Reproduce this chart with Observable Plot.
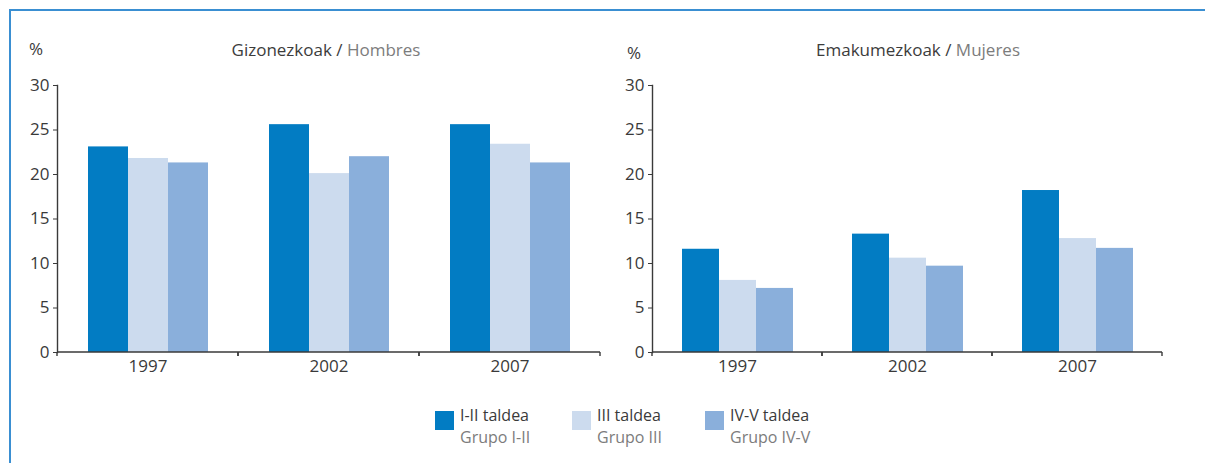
<!DOCTYPE html>
<html>
<head>
<meta charset="utf-8">
<script src="https://cdn.jsdelivr.net/npm/d3@7"></script>
<script src="https://cdn.jsdelivr.net/npm/@observablehq/plot@0.6"></script>
<style>
  html, body { margin: 0; padding: 0; background: #fff; }
  #wrap { position: relative; width: 1205px; height: 463px; overflow: hidden; font-family: "Open Sans", sans-serif; }
  #frame { position: absolute; left: 9px; top: 9px; right: -10px; bottom: -10px; border-top: 2px solid #3a8fd2; border-left: 2px solid #3a8fd2; }
  .chart { position: absolute; top: 0; }
  .title { position: absolute; font-size: 17px; color: #3c3c3c; white-space: nowrap; transform: translateX(-50%); }
  .title span { color: #7c7c7c; }
  .pct { position: absolute; font-size: 17px; color: #3a3a3a; }
  .sw { position: absolute; width: 19px; height: 19px; top: 411px; }
  .lab { position: absolute; font-size: 16px; line-height: 22px; height: 22px; white-space: nowrap; }
  .eu { color: #3a3a3a; }
  .es { color: #7c7c7c; }
</style>
</head>
<body>
<div id="wrap">
  <div id="frame"></div>
</div>
<script>
// ---- data ----
const years = ["1997", "2002", "2007"];
const groups = ["I-II", "III", "IV-V"];
const groupLabelsEu = ["I-II taldea", "III taldea", "IV-V taldea"];
const groupLabelsEs = ["Grupo I-II", "Grupo III", "Grupo IV-V"];
const colors = ["#027cc3", "#ccdbee", "#8aafdb"];
const yTicks = [0, 5, 10, 15, 20, 25, 30];

// Gizonezkoak / Hombres
const menI_II = [23.1, 25.6, 25.6];
const menIII = [21.8, 20.1, 23.4];
const menIV_V = [21.3, 22.0, 21.3];
// Emakumezkoak / Mujeres
const womenI_II = [11.6, 13.3, 18.2];
const womenIII = [8.1, 10.6, 12.8];
const womenIV_V = [7.2, 9.7, 11.7];

function table(series) {
  const rows = [];
  years.forEach((yr, i) => {
    groups.forEach((g, j) => rows.push({year: yr, group: g, value: series[j][i]}));
  });
  return rows;
}

// per-facet baseline with boundary ticks
function baseline(index, scales, values, dims) {
  const x1 = dims.marginLeft, x2 = dims.width - dims.marginRight;
  const y0 = scales.y(0);
  const g = d3.create("svg:g").attr("stroke", "#3a3a3a").attr("stroke-width", 1.4).attr("fill", "none");
  g.append("line").attr("x1", x1).attr("x2", x2).attr("y1", y0).attr("y2", y0);
  g.append("line").attr("x1", x1).attr("x2", x1).attr("y1", y0).attr("y2", y0 + 4);
  g.append("line").attr("x1", x2).attr("x2", x2).attr("y1", y0).attr("y2", y0 + 4);
  return g.node();
}

function panel(data, width, marginLeft, marginRight) {
  return Plot.plot({
    width,
    height: 382,
    marginLeft,
    marginRight,
    marginTop: 85,
    marginBottom: 30,
    style: {fontFamily: "Open Sans, sans-serif", fontSize: "17px", color: "#3a3a3a", background: "transparent", overflow: "visible"},
    fx: {domain: years, paddingInner: 0, paddingOuter: 0, axis: null},
    x: {domain: groups, paddingInner: 0, paddingOuter: 0.74, axis: null},
    y: {domain: [0, 30], axis: null},
    color: {domain: groups, range: colors},
    marks: [
      Plot.barY(data, {fx: "year", x: "group", y: "value", fill: "group"}),
      Plot.axisY({ticks: yTicks, tickSize: 4, tickPadding: 4, label: null, fontSize: 17, stroke: "#3a3a3a"}),
      Plot.frame({anchor: "left", facet: "super", stroke: "#3a3a3a", strokeWidth: 1.4}),
      baseline,
      Plot.axisFx({anchor: "bottom", tickSize: 0, tickPadding: 7, label: null, fontSize: 17})
    ]
  });
}

const wrap = document.getElementById("wrap");

const left = panel(table([menI_II, menIII, menIV_V]), 620, 57, 20);
left.classList.add("chart");
left.style.left = "0px";
wrap.appendChild(left);

const right = panel(table([womenI_II, womenIII, womenIV_V]), 600, 52, 38);
right.classList.add("chart");
right.style.left = "600px";
wrap.appendChild(right);

// titles and unit labels
function addText(cls, html, x, y) {
  const d = document.createElement("div");
  d.className = cls;
  d.innerHTML = html;
  d.style.left = x + "px";
  d.style.top = y + "px";
  wrap.appendChild(d);
  return d;
}
addText("title", "Gizonezkoak / <span>Hombres</span>", 326, 38);
addText("title", "Emakumezkoak / <span>Mujeres</span>", 918, 38);
addText("pct", "%", 29, 37);
addText("pct", "%", 627, 41);

// legend
const swatchX = [435, 572, 705];
const labelX = [460, 597, 730];
groups.forEach((g, i) => {
  const sw = addText("sw", "", swatchX[i], 411);
  sw.style.background = colors[i];
  addText("lab eu", groupLabelsEu[i], labelX[i], 404);
  addText("lab es", groupLabelsEs[i], labelX[i], 426);
});
</script>
</body>
</html>
